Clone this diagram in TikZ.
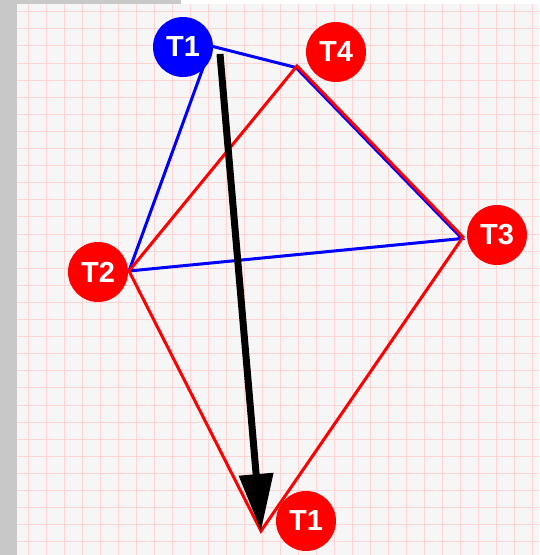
\documentclass[tikz,border=0pt]{standalone}
\usepackage{fontspec}
\setmainfont{Liberation Sans}
\usetikzlibrary{arrows.meta}
\definecolor{plotbg}{RGB}{246,246,246}
\definecolor{gridpink}{RGB}{255,212,212}
\definecolor{framegray}{RGB}{200,200,200}

\begin{document}
\begin{tikzpicture}[
    x=1pt, y=-1pt,
    edge/.style={line width=3pt, line join=miter},
    oldedge/.style={edge, blue},
    newedge/.style={edge, red},
    vlabel/.style={circle, minimum size=60pt, inner sep=0pt, text=white,
                   font=\fontsize{29}{29}\selectfont\bfseries},
    oldlabel/.style={vlabel, fill=blue},
    newlabel/.style={vlabel, fill=red},
    move/.style={-{Triangle[length=57pt, width=33pt]}, line width=7pt, black},
    gridline/.style={gridpink, line width=1pt},
]

% background and frame
\fill[white] (0,0) rectangle (539,555);
\fill[framegray] (0,0) rectangle (17,555);
\fill[framegray] (0,0) rectangle (181,4);
\fill[plotbg] (17,4) rectangle (539,555);
\useasboundingbox (0,0) rectangle (539,555);

% grid
\foreach \gx in {0,...,28}
    \draw[gridline] (28.7+18*\gx, 4) -- (28.7+18*\gx, 555);
\foreach \gy in {0,...,31}
    \draw[gridline] (17, 11.7+17.1*\gy) -- (539, 11.7+17.1*\gy);

% vertices
\coordinate (t1old) at (211,46);
\coordinate (t2) at (129,271);
\coordinate (t3) at (463,237);
\coordinate (t4) at (297,66);
\coordinate (t1new) at (261,531);
\coordinate (t3old) at (462,238.5);
\coordinate (t4old) at (296,67.5);

% tetrahedron before the move
\draw[oldedge] (t2) -- (t1old) -- (t4old) -- (t3old) -- cycle;

% tetrahedron after the move
\draw[newedge] (t2) -- (t4) -- (t3) -- (t1new) -- cycle;

% drag arrow
\coordinate (grab) at (220,54);
\draw[move] (grab) -- (t1new);

% labels
\node[oldlabel] (lt1old) at (183,47) {T1};
\node[newlabel] (lt4) at (336,52) {T4};
\node[newlabel] (lt2) at (98,272) {T2};
\node[newlabel] (lt3) at (497,235) {T3};
\node[newlabel] (lt1new) at (306,521) {T1};

\end{tikzpicture}
\end{document}
